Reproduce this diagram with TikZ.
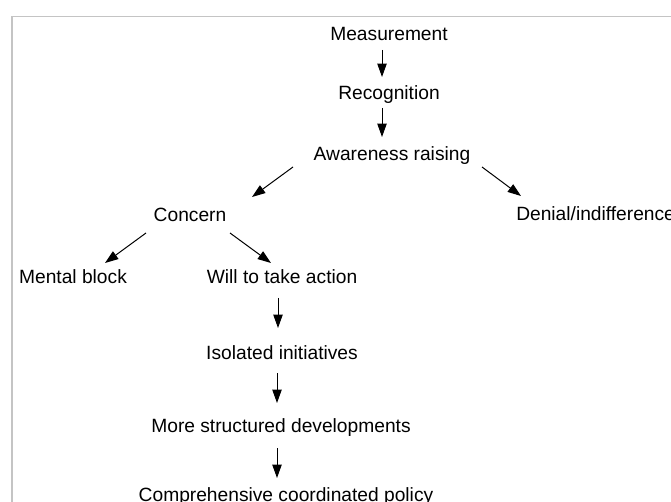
\documentclass[tikz,border=0pt]{standalone}
\usepackage{fontspec}
\setmainfont{Liberation Sans}
\usetikzlibrary{arrows.meta,calc}

\begin{document}
\begin{tikzpicture}[x=0.75pt,y=-0.75pt,
        stage/.style={inner sep=0pt,anchor=base,font=\fontsize{14.4}{17}\selectfont},
        arr/.style={line width=0.75pt,-{Triangle[length=10pt,width=7pt]}}
    ]
    \useasboundingbox (0,0) rectangle (671,502);
    \draw[line width=1.3pt,black!23] (12,502) -- (12,16.5) -- (671,16.5);

    \node[stage] (meas)    at (389,41)  {Measurement};
    \node[stage] (recog)   at (389,100) {Recognition};
    \node[stage] (aware)   at (392,161) {Awareness raising};
    \node[stage] (concern) at (190,222) {Concern};
    \node[stage,anchor=base west] (denial) at (516,221) {Denial/indifference};
    \node[stage] (block)   at (73,284)  {Mental block};
    \node[stage] (will)    at (282,284) {Will to take action};
    \node[stage] (isol)    at (282,359) {Isolated initiatives};
    \node[stage] (struct)  at (281,432) {More structured developments};
    \node[stage] (policy)  at (286,501.5) {Comprehensive coordinated policy};

    \draw[arr] ($(meas.base)+(-7,9)$)      -- ($(recog.base)+(-7,-23)$);
    \draw[arr] ($(recog.base)+(-7,8)$)     -- ($(aware.base)+(-10,-24)$);
    \draw[arr] ($(aware.base)+(-99,6)$)    -- ($(concern.base)+(62,-25)$);
    \draw[arr] ($(aware.base)+(90,6)$)     -- ($(denial.base west)+(5,-25)$);
    \draw[arr] ($(concern.base)+(-44,11)$) -- ($(block.base)+(32,-21)$);
    \draw[arr] ($(concern.base)+(40,11)$)  -- ($(will.base)+(-11,-21)$);
    \draw[arr] ($(will.base)+(-4,14)$)     -- ($(isol.base)+(-4,-31)$);
    \draw[arr] ($(isol.base)+(-5,14)$)     -- ($(struct.base)+(-4,-29)$);
    \draw[arr] ($(struct.base)+(-4,16)$)   -- ($(policy.base)+(-9,-23.5)$);
\end{tikzpicture}
\end{document}
